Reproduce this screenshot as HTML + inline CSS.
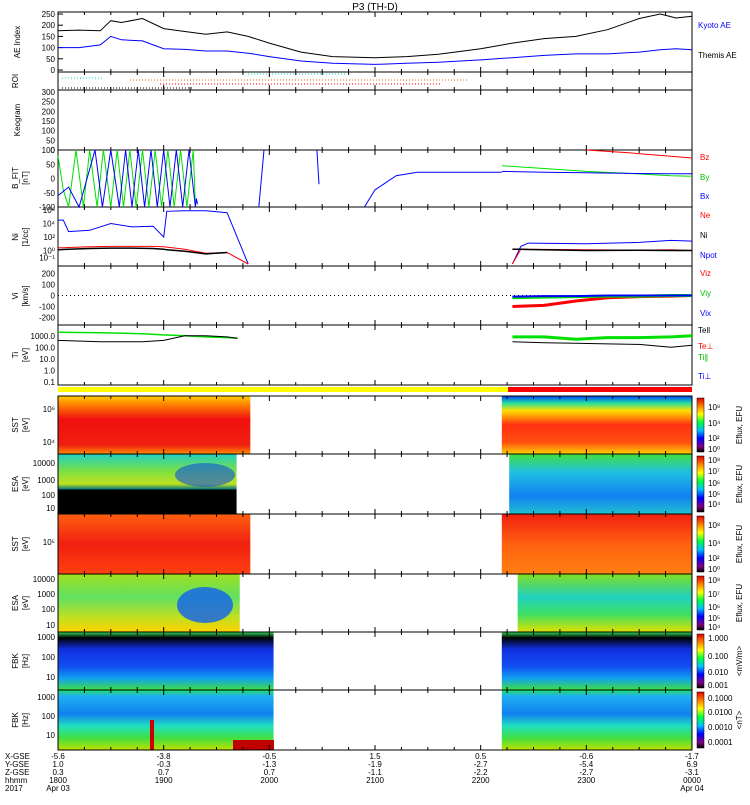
<!DOCTYPE html>
<html><head><meta charset="utf-8"><style>
body{margin:0;background:#fff}
svg text{font-family:"Liberation Sans",sans-serif}
</style></head><body>
<svg id="s" width="750" height="800" xmlns="http://www.w3.org/2000/svg">
<defs>
<linearGradient id="gSST1L" x1="0" y1="0" x2="0" y2="1"><stop offset="0" stop-color="#ffd000"/><stop offset="0.15" stop-color="#ff8000"/><stop offset="0.4" stop-color="#f01010"/><stop offset="0.85" stop-color="#f02010"/><stop offset="1" stop-color="#ff9000"/></linearGradient>
<linearGradient id="gSST1R" x1="0" y1="0" x2="0" y2="1"><stop offset="0" stop-color="#0040ff"/><stop offset="0.12" stop-color="#20e0a0"/><stop offset="0.25" stop-color="#ffe000"/><stop offset="0.5" stop-color="#ff3010"/><stop offset="0.8" stop-color="#ff5010"/><stop offset="1" stop-color="#ffd000"/></linearGradient>
<linearGradient id="gESA1L" x1="0" y1="0" x2="0" y2="1"><stop offset="0" stop-color="#20d0c0"/><stop offset="0.3" stop-color="#80e040"/><stop offset="0.5" stop-color="#c0e020"/><stop offset="0.58" stop-color="#108080"/><stop offset="0.6" stop-color="#000"/><stop offset="1" stop-color="#000"/></linearGradient>
<linearGradient id="gESA1R" x1="0" y1="0" x2="0" y2="1"><stop offset="0" stop-color="#40e040"/><stop offset="0.3" stop-color="#20c0e0"/><stop offset="0.7" stop-color="#1080f0"/><stop offset="1" stop-color="#20c0d0"/></linearGradient>
<linearGradient id="gSST2L" x1="0" y1="0" x2="0" y2="1"><stop offset="0" stop-color="#ff6010"/><stop offset="0.5" stop-color="#f02010"/><stop offset="1" stop-color="#ff4010"/></linearGradient>
<linearGradient id="gSST2R" x1="0" y1="0" x2="0" y2="1"><stop offset="0" stop-color="#f02010"/><stop offset="0.5" stop-color="#ff6010"/><stop offset="1" stop-color="#ff8010"/></linearGradient>
<linearGradient id="gESA2L" x1="0" y1="0" x2="0" y2="1"><stop offset="0" stop-color="#a0e020"/><stop offset="0.4" stop-color="#60e060"/><stop offset="0.75" stop-color="#c0e020"/><stop offset="1" stop-color="#ffd000"/></linearGradient>
<linearGradient id="gESA2R" x1="0" y1="0" x2="0" y2="1"><stop offset="0" stop-color="#80e020"/><stop offset="0.4" stop-color="#20d0c0"/><stop offset="0.7" stop-color="#40e060"/><stop offset="1" stop-color="#e0e000"/></linearGradient>
<linearGradient id="gFBK1" x1="0" y1="0" x2="0" y2="1"><stop offset="0" stop-color="#30e060"/><stop offset="0.1" stop-color="#000"/><stop offset="0.3" stop-color="#1030e0"/><stop offset="0.6" stop-color="#1050f0"/><stop offset="0.8" stop-color="#10a0f0"/><stop offset="1" stop-color="#40e040"/></linearGradient>
<linearGradient id="gFBK2" x1="0" y1="0" x2="0" y2="1"><stop offset="0" stop-color="#20e060"/><stop offset="0.1" stop-color="#20b0f0"/><stop offset="0.4" stop-color="#1080f0"/><stop offset="0.6" stop-color="#20e0c0"/><stop offset="0.8" stop-color="#40e040"/><stop offset="1" stop-color="#c0e000"/></linearGradient>
<linearGradient id="gCB" x1="0" y1="1" x2="0" y2="0"><stop offset="0" stop-color="#000"/><stop offset="0.1" stop-color="#800080"/><stop offset="0.25" stop-color="#0000ff"/><stop offset="0.4" stop-color="#00c0ff"/><stop offset="0.55" stop-color="#00ff40"/><stop offset="0.7" stop-color="#ffff00"/><stop offset="0.85" stop-color="#ff8000"/><stop offset="1" stop-color="#e00000"/></linearGradient>
</defs>
<text x="375" y="10" font-size="10" text-anchor="middle">P3 (TH-D)</text>
<g id="g"></g>
</svg>
<script>
// ---- data ----
const aeTimes=[0,0.2,0.4,0.5,0.6,0.8,1.0,1.2,1.4,1.6,1.8,2.0,2.3,2.6,3.0,3.3,3.6,4.0,4.3,4.6,4.9,5.2,5.5,5.7,5.85,6.0];
const kyotoAE=[175,178,175,220,212,230,185,172,160,170,150,120,80,60,55,60,70,95,120,140,150,180,230,250,232,240];
const themisAE=[100,100,112,150,135,130,95,92,85,85,75,60,40,30,25,30,35,45,55,65,72,72,80,90,95,90];
const bTimes=[0,0.05,0.1,0.17,0.24,0.3,0.37,0.43,0.5,0.56,0.62,0.68,0.74,0.8,0.86,0.92,0.98,1.04,1.1,1.16,1.22,1.28,1.3];
const bGreen=[80,-40,-100,100,-100,100,-100,100,-100,100,-100,100,-100,100,-100,100,-100,100,-100,100,-100,100,-100];
const bBlueT=[0,0.1,0.2,0.35,0.42,0.5,0.58,0.64,0.7,0.76,0.82,0.88,0.94,1.0,1.06,1.12,1.18,1.24,1.3,1.31,1.32];
const bBlue=[-60,-30,-100,100,-100,100,-100,100,-100,100,-100,100,-100,100,-100,100,-100,100,-100,-70,-90];
const bRightT=[4.2,4.6,5.0,5.4,5.8,6.0];
const bRightBy=[45,35,25,18,10,8];
const bRightBx=[25,22,20,18,17,17];
const bzT=[5.0,5.4,5.8,6.0];const bz=[100,90,78,72];
const niT=[0,0.05,0.1,0.3,0.5,0.7,0.9,1.0,1.03,1.2,1.4,1.6,1.8];
const niBlue=[4.5,4.5,2.8,3,4,3.5,3.6,2,5.8,5.9,5.9,5.6,-2];
const niRed=[0.4,0.4,0.45,0.55,0.6,0.6,0.6,0.55,0.5,0.2,-0.4,-0.3,-2];
const niBlack=[0.1,0.15,0.2,0.3,0.35,0.35,0.3,0.2,0.1,-0.1,-0.5,-0.3,-0.3];
const niRT=[4.3,4.38,4.45,5.0,5.5,5.8,6.0];
const niRBlue=[-2,0.6,1.1,1.0,1.2,1.5,1.4];
const niRRed=[-2,0.2,0.2,0.1,0.05,0.1,0.0];
const niRBlack=[0.2,0.2,0.15,0.0,0.05,0.0,0.0];
const viT=[4.3,4.6,4.9,5.2,5.5,5.8,6.0];
const viX=[-100,-90,-50,-20,-10,-5,0];const viY=[-20,-15,-10,-5,-5,0,0];const viZ=[-10,-5,-5,0,0,0,0];
const tiT=[0,0.4,0.8,1.0,1.2,1.4,1.6,1.7];
const tiGreen=[2000,1800,1500,1200,1000,800,700,600];
const tiBlack=[400,300,300,400,1000,1000,800,600];
const tiRT=[4.3,4.6,4.9,5.2,5.5,5.8,6.0];
const tiRG=[800,800,500,700,700,800,1000];
const tiRK=[300,250,230,200,180,100,150];
const hourLabels=['1800','1900','2000','2100','2200','2300','0000'];
const xgse=['-5.6','-3.8','-0.5','1.5','0.5','-0.6','-1.7'];
const ygse=['1.0','-0.3','-1.3','-1.9','-2.7','-5.4','6.9'];
const zgse=['0.3','0.7','0.7','-1.1','-2.2','-2.7','-3.1'];
// ---- layout ----
const X0=58,X1=692,hours=6;
const xs=t=>X0+t*(X1-X0)/hours;
const g=document.getElementById('g');const NS='http://www.w3.org/2000/svg';
function el(tag,a,p){const e=document.createElementNS(NS,tag);for(const k in a)e.setAttribute(k,a[k]);(p||g).appendChild(e);return e;}
function txt(x,y,s,sz,col,anc,rot){const e=el('text',{x:x,y:y,'font-size':sz||8,fill:col||'#000','text-anchor':anc||'end'});if(rot)e.setAttribute('transform','rotate(-90 '+x+' '+y+')');e.textContent=s;return e;}
function line(ts,vs,ys,col,w,name){let d='';ts.forEach((t,i)=>{d+=(i?'L':'M')+xs(t).toFixed(1)+','+ys(vs[i]).toFixed(1);});const p=el('path',{d:d,fill:'none',stroke:col,'stroke-width':w||1});return p;}
const panels=[[12,72],[72,90],[90,150],[150,207],[207,266],[266,325],[325,385],[396,454],[454,514],[514,574],[574,632],[632,690],[690,750]];
function lin(top,bot,min,max){return v=>bot-(v-min)/(max-min)*(bot-top);}
function lg(top,bot,min,max){return v=>bot-(Math.log10(v)-min)/(max-min)*(bot-top);}
const specs=[[7,0,1.82,'gSST1L',4.2,6,'gSST1R'],[8,0,1.69,'gESA1L',4.27,6,'gESA1R'],[9,0,1.82,'gSST2L',4.2,6,'gSST2R'],[10,0,1.72,'gESA2L',4.35,6,'gESA2R'],[11,0,2.04,'gFBK1',4.2,6,'gFBK1'],[12,0,2.04,'gFBK2',4.2,6,'gFBK2']];
specs.forEach((s,i)=>{const [a,b]=panels[s[0]];
 let r=el('rect',{x:xs(s[1]),y:a,width:xs(s[2])-xs(s[1]),height:b-a,fill:'url(#'+s[3]+')'});
 r=el('rect',{x:xs(s[4]),y:a,width:xs(s[5])-xs(s[4]),height:b-a,fill:'url(#'+s[6]+')'});});
el('ellipse',{cx:205,cy:605,rx:28,ry:18,fill:'#1060f0',opacity:0.8});
el('ellipse',{cx:205,cy:475,rx:30,ry:12,fill:'#1050e0',opacity:0.6});
el('rect',{x:233,y:740,width:41,height:10,fill:'#c00000'});
el('rect',{x:150,y:720,width:4,height:30,fill:'#d00000'});
el('rect',{x:X0,y:387,width:X1-X0,height:5,fill:'#ffff00'});el('rect',{x:508,y:387,width:X1-508,height:5,fill:'#ff0000'});
el('line',{x1:62,y1:78,x2:102,y2:78,stroke:'#00e0c0','stroke-dasharray':'1 2'});
el('line',{x1:130,y1:80,x2:468,y2:80,stroke:'#ff6000','stroke-dasharray':'1 2'});
el('line',{x1:160,y1:84,x2:440,y2:84,stroke:'#ff0000','stroke-dasharray':'1 2'});
el('line',{x1:248,y1:74,x2:345,y2:74,stroke:'#00e0c0','stroke-dasharray':'1 2'});
el('line',{x1:62,y1:88,x2:192,y2:88,stroke:'#000','stroke-dasharray':'1 2'});
panels.forEach((p,i)=>{const r=el('rect',{x:X0,y:p[0],width:X1-X0,height:p[1]-p[0],fill:'none',stroke:'#000','stroke-width':1});
 for(let h=0;h<=hours*4;h++){const x=xs(h/4);const L=h%4?3:5;el('line',{x1:x,y1:p[1],x2:x,y2:p[1]-L,stroke:'#000'});el('line',{x1:x,y1:p[0],x2:x,y2:p[0]+L,stroke:'#000'});}});
const yAE=lin(14,70,0,250);
[0,50,100,150,200,250].forEach(v=>{txt(55,yAE(v)+3,v,8);el('line',{x1:X0,y1:yAE(v),x2:X0+5,y2:yAE(v),stroke:'#000'});});
line(aeTimes,kyotoAE,yAE,'#000',1,'kyoto-ae-line');line(aeTimes,themisAE,yAE,'#0000ff',1,'themis-ae-line');
txt(20,42,'AE Index',8,'#000','middle',1);txt(698,28,'Kyoto AE',8,'#0000ff','start');txt(698,58,'Themis AE',8,'#000','start');
txt(18,81,'ROI',8,'#000','middle',1);
const yK=lin(92,150,0,300);[0,50,100,150,200,250,300].forEach(v=>txt(55,yK(v)+3,v,8));txt(20,120,'Keogram',8,'#000','middle',1);
const yB=lin(150,207,-100,100);[-100,-50,0,50,100].forEach(v=>txt(55,yB(v)+3,v,8));
line(bTimes,bGreen,yB,'#00e000',1,'b-fit-by-left');line(bBlueT,bBlue,yB,'#0000ff',1,'b-fit-bx-left');
line([1.9,1.95],[-100,100],yB,'#0000ff',1,'b-fit-bx-seg');line([2.45,2.47],[100,-20],yB,'#0000ff',1,'b-fit-bx-seg2');
line([2.9,3.0,3.2,3.4,4.2],[-100,-40,10,22,22],yB,'#0000ff',1,'b-fit-bx-mid');
line(bRightT,bRightBy,yB,'#00e000',1,'b-fit-by-right');line(bRightT,bRightBx,yB,'#0000ff',1,'b-fit-bx-right');line(bzT,bz,yB,'#ff0000',1,'b-fit-bz');
txt(18,178,'B_FIT',8,'#000','middle',1);txt(28,178,'[nT]',8,'#000','middle',1);
txt(700,160,'Bz',8,'#ff0000','start');txt(700,180,'By',8,'#00c000','start');txt(700,199,'Bx',8,'#0000ff','start');
const yN=v=>264-(v+2)/8*(264-210);
[[6,'10⁶'],[4,'10⁴'],[2,'10²'],[0,'10⁰'],[-1,'10⁻¹']].forEach(a=>txt(55,yN(a[0])+3,a[1],8));
line(niT,niBlue,yN,'#0000ff',1,'ni-npot-line');line(niT,niRed,yN,'#ff0000',1,'ni-ne-line');line(niT.slice(0,12),niBlack.slice(0,12),yN,'#000',1.5,'ni-ni-line');
line(niRT,niRBlue,yN,'#0000ff',1,'ni-npot-right');line(niRT,niRRed,yN,'#ff0000',1,'ni-ne-right');line(niRT,niRBlack,yN,'#000',1.5,'ni-ni-right');
txt(18,237,'Ni',8,'#000','middle',1);txt(28,237,'[1/cc]',8,'#000','middle',1);
txt(700,218,'Ne',8,'#ff0000','start');txt(700,238,'Ni',8,'#000','start');txt(700,258,'Npot',8,'#0000ff','start');
const yV=lin(268,323,-250,250);[-200,-100,0,100,200].forEach(v=>txt(55,yV(v)+3,v,8));
el('line',{x1:X0,y1:yV(0),x2:X1,y2:yV(0),stroke:'#000','stroke-dasharray':'1 3'});
line(viT,viX,yV,'#ff0000',3,'vi-vx-line');line(viT,viY,yV,'#00e000',3,'vi-vy-line');line(viT,viZ,yV,'#0000ff',2,'vi-vz-line');
txt(18,296,'Vi',8,'#000','middle',1);txt(28,296,'[km/s]',8,'#000','middle',1);
txt(700,276,'Viz',8,'#ff0000','start');txt(700,296,'Viy',8,'#00c000','start');txt(700,316,'Vix',8,'#0000ff','start');
const yT=lg(330,382,-1,3.5);[[1000,'1000.0'],[100,'100.0'],[10,'10.0'],[1,'1.0'],[0.1,'0.1']].forEach(a=>txt(55,yT(a[0])+3,a[1],8));
line(tiT,tiGreen,yT,'#00e000',1.5,'ti-tipar-left');line(tiT,tiBlack,yT,'#000',1,'ti-teall-left');
line(tiRT,tiRG,yT,'#00e000',3,'ti-tipar-right');line(tiRT,tiRK,yT,'#000',1,'ti-teall-right');
txt(18,355,'Ti',8,'#000','middle',1);txt(28,355,'[eV]',8,'#000','middle',1);
txt(698,333,'Tell',8,'#000','start');txt(698,349,'Te⊥',8,'#ff0000','start');txt(698,360,'Ti∥',8,'#00c000','start');txt(698,379,'Ti⊥',8,'#0000ff','start');
[['SST',425],['ESA',484],['SST',544],['ESA',603],['FBK',661],['FBK',720]].forEach((a,i)=>{txt(18,a[1],a[0],8,'#000','middle',1);txt(28,a[1],i<4?'[eV]':'[Hz]',8,'#000','middle',1);});
[['10⁶',412],['10⁴',445],['10000',466],['1000',483],['100',498],['10',511],['10⁵',545],['10000',582],['1000',597],['100',612],['10',628],['1000',640],['100',660],['10',680],['1000',700],['100',719],['10',738]].forEach(a=>txt(55,a[1],a[0],8));
[[396,454,'Eflux, EFU'],[454,514,'Eflux, EFU'],[514,574,'Eflux, EFU'],[574,632,'Eflux, EFU'],[632,690,'<mV/m>'],[690,750,'<nT>']].forEach((c,i)=>{const r=el('rect',{x:697,y:c[0]+2,width:7,height:c[1]-c[0]-4,fill:'url(#gCB)',stroke:'#000','stroke-width':0.5});txt(742,(c[0]+c[1])/2,c[2],8,'#000','middle',1);});
[['10⁸',410],['10⁴',426],['10²',441],['10⁰',452],['10⁸',463],['10⁷',474],['10⁶',486],['10⁵',497],['10⁴',507],['10⁸',528],['10⁴',546],['10²',561],['10⁰',572],['10⁸',583],['10⁷',597],['10⁶',610],['10⁵',621],['10⁴',630],['1.000',641],['0.100',659],['0.010',675],['0.001',688],['0.1000',701],['0.0100',715],['0.0010',730],['0.0001',745]].forEach(a=>txt(708,a[1],a[0],8,'#000','start'));
const rows=['X-GSE','Y-GSE','Z-GSE','hhmm','2017'];rows.forEach((r,i)=>txt(5,759+i*8,r,8,'#000','start'));
hourLabels.forEach((h,i)=>{const x=xs(i);txt(x,759,xgse[i],8,'#000','middle');txt(x,767,ygse[i],8,'#000','middle');txt(x,775,zgse[i],8,'#000','middle');txt(x,783,h,8,'#000','middle');});
txt(xs(0),791,'Apr 03',8,'#000','middle');txt(xs(6),791,'Apr 04',8,'#000','middle');
</script>
</body></html>
